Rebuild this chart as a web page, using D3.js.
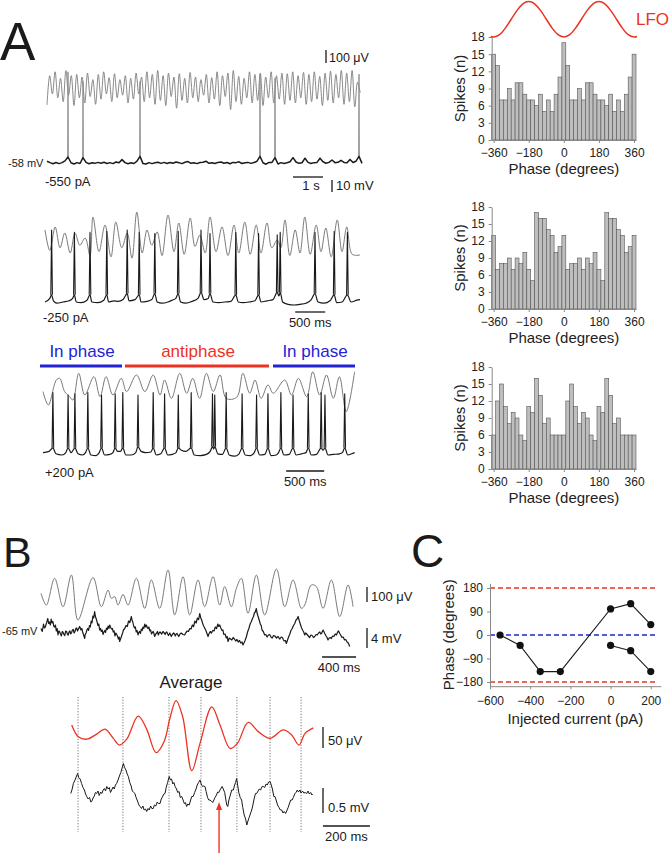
<!DOCTYPE html>
<html><head><meta charset="utf-8">
<script src="https://cdn.jsdelivr.net/npm/d3@7"></script>
<style>body{margin:0;background:#fff;} svg text{font-family:"Liberation Sans",Arial,sans-serif;}</style>
</head><body>
<svg id="fig" width="671" height="853"></svg>
<script>
// ---------------- DATA ----------------
// Phase histograms (20-degree bins centred on -360..360)
const phaseBins = [-360,-340,-320,-300,-280,-260,-240,-220,-200,-180,-160,-140,-120,-100,-80,-60,-40,-20,0,20,40,60,80,100,120,140,160,180,200,220,240,260,280,300,320,340,360];
const hist550 = [15,13,7,7,9,7,10,10,8,7,7,6,8,5,7,5,8,11,17,13,7,7,9,7,10,10,8,7,7,6,8,5,7,5,8,11,15];
const hist250 = [13,7,8,8,9,7,9,8,10,7,5,17,16,16,14,13,10,11,13,7,8,8,9,7,9,8,10,7,5,17,16,16,14,13,10,11,13];
const hist200 = [6,12,15,11,8,10,9,6,5,11,10,16,13,8,9,6,6,6,6,12,15,11,8,10,9,6,5,11,10,16,13,8,9,6,6,6,6];
const phaseTicks = [-360,-180,0,180,360];
const spikeTicks = [0,3,6,9,12,15,18];
// LFO schematic (phase, normalised amplitude)
const lfoPhase = [-375,-360,-330,-300,-270,-240,-210,-180,-150,-120,-90,-60,-30,0,30,60,90,120,150,180,210,240,270,300,330,360,375];
const lfoValue = [-0.97,-1,-0.87,-0.5,0,0.5,0.87,1,0.87,0.5,0,-0.5,-0.87,-1,-0.87,-0.5,0,0.5,0.87,1,0.87,0.5,0,-0.5,-0.87,-1,-0.97];

// Panel C: phase vs injected current
const currentA = [-550,-450,-350,-250,0,100,200];
const phaseA   = [0,-40,-140,-140,100,120,40];
const currentB = [0,100,200];
const phaseB   = [-40,-60,-140];
const currentTicks = [-600,-400,-200,0,200];
const phaseCTicks = [-180,-90,0,90,180];
const refRed = [180,-180];
const refBlue = [0];
const refExtent = [-600,225];

// Panel A1 (-550 pA): LFO extremes (uV) every 0.09 s, Vm (mV above -58) every 0.1 s
const a1LfoDt = 0.09;
const a1Lfo = [-115,110,-30,140,-60,90,-90,150,-40,110,-120,120,-60,100,-100,130,-50,80,-110,120,-70,140,-30,95,-90,125,-60,80,-40,110,-100,90,-70,130,-30,100,-90,140,-60,120,-110,150,-80,110,-120,130,-50,100,-140,125,-80,90,-100,135,-60,100,-90,80,-40,120,-100,95,-70,140,-120,110,-50,130,-150,150,-90,105,-110,90,-60,140,-100,120,-80,130,-120,100,-60,140,-100,110,-70,130,-110,125,-80,140,-100,110,-60,135,-110,120,-90,140,-70,105,-120,130,-80,145,-100,120,-60,150,-110,130,-90,150,-130,60,-20];
const a1VmDt = 0.1;
const a1Vm = [1.5,0.3,-0.6,0.4,-0.5,0.3,1.8,5,0.2,-0.8,
  0.3,-0.4,4.5,0.5,-0.6,0.2,-0.3,0.5,-0.2,0.6,
  -0.4,0.3,-0.5,0.8,0.2,2.8,0.3,-0.6,0.2,-0.4,
  1.5,5.5,-0.5,-0.8,0.3,-0.5,0.2,0.6,-0.3,0.5,
  -0.4,0.4,-0.2,0.8,0.3,-0.5,0.6,1.2,-0.3,0.2,
  -0.5,0.4,0.6,1.5,-0.3,0.2,-0.4,0.5,0.8,-0.2,
  0.4,-0.6,0.5,0.3,1.0,-0.4,0.2,0.5,-0.3,0.4,
  1.5,5.5,0.2,-1.0,0.5,0.5,4.5,-0.8,0.3,-0.4,
  0.2,1.0,4.5,0.8,-0.3,0.2,4.0,0.5,-0.4,0.3,
  0.5,4.0,1.0,-0.2,0.5,2.5,0.3,0.6,2.2,0.5,
  0.3,3.0,0.4,1.5,5.5,-0.3];
const a1SpikeT = [0.7,1.2,3.1,7.1,7.6,10.4];
const a1SpikeTop = [76,68,68,74,71,74];

// Panel A2 (-250 pA)
const a2Lfo = [[0,77],[0.08,-80],[0.17,100],[0.25,-60],[0.33,54],[0.42,-100],[0.5,54],[0.58,-40],[0.67,15],[0.75,-120],[0.8,177],[0.9,-90],[1.0,115],[1.1,-130],[1.18,138],[1.28,-60],[1.37,54],[1.45,-140],[1.53,215],[1.62,-100],[1.7,77],[1.78,-40],[1.87,62],[1.95,-120],[2.05,192],[2.15,-90],[2.23,131],[2.32,-110],[2.42,169],[2.5,-50],[2.58,38],[2.67,-100],[2.75,177],[2.85,-90],[2.95,100],[3.05,-120],[3.15,115],[3.23,-100],[3.33,138],[3.42,-110],[3.52,115],[3.6,-100],[3.7,131],[3.78,-60],[3.87,0],[3.93,-60],[4.0,154],[4.08,-120],[4.17,77],[4.25,-100],[4.33,177],[4.42,-110],[4.52,115],[4.6,-90],[4.68,92],[4.77,-130],[4.87,154],[4.95,-90],[5.03,100],[5.12,-110],[5.25,-115]];
const a2Vm = [[0,0],[0.08,3],[0.11,6],[0.14,1],[0.2,-1],[0.3,0],[0.4,1],[0.46,3],[0.49,6],[0.52,0],[0.6,-0.5],[0.7,1.5],[0.75,6],[0.78,0],[0.88,-0.5],[0.98,1.5],[1.03,6],[1.06,0],[1.15,1],[1.22,0.5],[1.3,2],[1.37,7],[1.4,1],[1.5,2],[1.57,6],[1.6,0],[1.7,0.5],[1.78,2],[1.83,7],[1.87,0],[1.95,-1],[2.05,0],[2.12,1.5],[2.18,3],[2.22,7],[2.26,0],[2.35,-1],[2.45,0.5],[2.55,3],[2.6,8],[2.65,2],[2.72,3],[2.75,7],[2.8,0],[2.9,-0.5],[3.0,0],[3.1,0.5],[3.18,6],[3.22,0],[3.3,-0.5],[3.4,0],[3.5,1],[3.56,6],[3.6,0],[3.7,1],[3.8,2],[3.87,8],[3.9,5],[3.92,8],[3.96,0],[4.05,-2],[4.15,-2.5],[4.25,-2],[4.35,-1],[4.43,1.5],[4.5,7],[4.55,0],[4.65,-1],[4.75,1],[4.82,6],[4.86,-0.5],[4.95,0],[5.04,6],[5.1,0],[5.2,1.5],[5.25,2]];
const a2SpikeT = [0.11,0.49,0.75,1.03,1.37,1.57,1.83,2.22,2.6,2.75,3.18,3.56,3.87,3.92,4.5,4.82,5.04];
const a2SpikeTop = [60,58,58,59,60,58,57,59,60,57,58,57,56,58,58,59,58];

// Panel A3 (+200 pA)
const a3Lfo = [[0,3],[0.07,-100],[0.175,92],[0.22,105],[0.285,3],[0.35,-36],[0.395,-62],[0.47,144],[0.55,-23],[0.67,118],[0.75,-36],[0.83,118],[0.92,-23],[1.03,105],[1.1,3],[1.23,131],[1.34,3],[1.45,131],[1.54,-23],[1.6,92],[1.69,-49],[1.8,144],[1.89,-10],[1.97,105],[2.06,-49],[2.15,144],[2.24,3],[2.33,131],[2.41,-49],[2.55,-40],[2.63,144],[2.72,-10],[2.79,92],[2.87,-49],[2.96,54],[3.03,-10],[3.18,92],[3.27,-23],[3.36,105],[3.47,-36],[3.55,156],[3.64,-23],[3.73,131],[3.82,-49],[3.9,118],[3.99,-151],[4.1,156]];
const a3Vm = [[0,2],[0.08,3],[0.13,6],[0.17,1],[0.25,0],[0.3,2],[0.33,6],[0.37,2],[0.42,6],[0.46,1],[0.52,0],[0.56,2],[0.59,6],[0.63,0],[0.7,-0.5],[0.74,2],[0.77,6],[0.81,0],[0.88,0.5],[0.92,2],[0.95,6],[0.98,3],[1.02,3],[1.05,6],[1.09,0],[1.16,0],[1.22,2],[1.25,7],[1.29,3],[1.35,2],[1.42,2.5],[1.45,6],[1.49,0],[1.55,1],[1.6,6],[1.64,0],[1.7,0.5],[1.75,2],[1.78,6],[1.82,4],[1.88,3],[1.95,6],[1.99,0],[2.07,-0.5],[2.15,0.5],[2.2,3],[2.23,7],[2.245,5],[2.26,7],[2.3,1],[2.36,0.5],[2.41,6],[2.45,0],[2.52,-1],[2.58,1],[2.62,6],[2.66,0],[2.73,-0.5],[2.78,2],[2.81,6],[2.85,0],[2.92,0.5],[2.96,6],[3.0,-0.5],[3.07,0],[3.1,2],[3.13,6],[3.17,0],[3.24,0.5],[3.29,6],[3.33,0],[3.4,1],[3.46,2],[3.49,6],[3.53,0],[3.6,0.5],[3.66,6],[3.685,4],[3.71,6],[3.75,0],[3.82,0.5],[3.9,1],[3.94,2],[3.97,6],[4.01,0],[4.06,1],[4.1,2]];
const a3SpikeT = [0.13,0.33,0.42,0.59,0.77,0.95,1.05,1.25,1.45,1.6,1.78,1.95,2.23,2.26,2.41,2.62,2.81,2.96,3.13,3.29,3.49,3.66,3.71,3.97];
const a3SpikeTop = [52,50,51,52,50,51,52,50,52,51,50,52,51,50,52,51,50,51,52,50,51,52,50,51];

// Panel B raw traces
const bLfo = [[0,11],[0.063,-67],[0.16,111],[0.259,-78],[0.357,133],[0.435,-167],[0.612,116],[0.71,-78],[0.788,33],[0.827,-22],[0.867,-11],[0.906,-67],[0.965,4],[1.024,-67],[1.122,111],[1.22,-89],[1.298,100],[1.396,-89],[1.494,167],[1.573,-133],[1.671,122],[1.749,-133],[1.847,100],[1.925,-78],[2.024,122],[2.102,-67],[2.161,56],[2.239,-78],[2.298,44],[2.357,111],[2.435,-122],[2.533,133],[2.631,-133],[2.769,173],[2.867,-78],[2.965,100],[3.063,-89],[3.102,-67],[3.18,67],[3.239,56],[3.318,-89],[3.416,100],[3.514,-144],[3.612,67],[3.671,-78]];
const bVm = [[0.00,0.9],[0.015,0.3],[0.03,1.8],[0.04,1.0],[0.05,1.2],[0.065,2.0],[0.08,2.9],[0.09,1.9],[0.10,2.2],[0.11,1.6],[0.12,2.8],[0.13,2.0],[0.14,2.3],[0.15,1.4],[0.16,1.2],[0.17,1.6],[0.18,0.4],[0.19,0.9],[0.20,-0.4],[0.21,0.4],[0.22,0.2],[0.23,-0.2],[0.24,-0.6],[0.25,0.3],[0.26,0.1],[0.27,-0.3],[0.28,-0.5],[0.29,0.4],[0.30,0.3],[0.31,-0.2],[0.32,-0.4],[0.33,0.2],[0.34,0.4],[0.35,-0.2],[0.36,0.1],[0.37,0.6],[0.38,0.7],[0.39,0.0],[0.40,0.3],[0.41,0.9],[0.42,1.0],[0.43,0.4],[0.44,0.8],[0.455,1.3],[0.47,0.6],[0.48,0.9],[0.49,0.2],[0.50,-0.3],[0.514,-1.1],[0.52,-0.3],[0.53,0.0],[0.54,0.6],[0.55,0.9],[0.56,0.5],[0.57,1.5],[0.58,1.2],[0.59,2.4],[0.60,2.0],[0.61,3.4],[0.62,3.0],[0.631,4.3],[0.64,3.3],[0.65,2.8],[0.66,2.2],[0.67,1.5],[0.68,1.8],[0.69,0.6],[0.70,0.9],[0.71,0.3],[0.72,0.6],[0.73,-0.3],[0.74,0.2],[0.75,0.5],[0.76,0.1],[0.77,1.0],[0.78,0.7],[0.79,1.4],[0.80,0.9],[0.808,1.6],[0.82,1.1],[0.83,0.8],[0.84,0.9],[0.85,0.2],[0.86,0.4],[0.87,-0.6],[0.88,0.0],[0.89,-0.3],[0.90,-0.6],[0.91,-1.2],[0.92,-0.8],[0.925,-1.7],[0.94,-1.0],[0.95,-0.5],[0.96,0.0],[0.97,0.6],[0.985,0.9],[1.00,1.5],[1.015,1.3],[1.03,2.4],[1.045,2.1],[1.063,3.3],[1.07,2.6],[1.08,2.2],[1.09,1.4],[1.10,1.0],[1.11,1.2],[1.12,0.2],[1.13,0.5],[1.141,-0.4],[1.15,0.1],[1.16,0.3],[1.17,-0.1],[1.18,0.8],[1.19,0.5],[1.20,1.2],[1.21,0.9],[1.22,1.8],[1.23,1.2],[1.239,1.6],[1.25,1.1],[1.26,0.9],[1.27,1.2],[1.28,0.4],[1.29,0.6],[1.30,-0.2],[1.31,0.1],[1.32,0.3],[1.33,-0.2],[1.337,-0.7],[1.35,-0.2],[1.36,0.0],[1.37,0.3],[1.38,-0.4],[1.39,0.0],[1.40,0.2],[1.42,-0.2],[1.435,0.3],[1.45,0.0],[1.46,-0.3],[1.47,0.1],[1.48,0.2],[1.49,-0.2],[1.50,-0.5],[1.515,0.0],[1.533,-0.7],[1.545,-0.3],[1.56,0.0],[1.57,-0.2],[1.58,-0.6],[1.59,-0.2],[1.60,-0.1],[1.61,-0.4],[1.62,-0.7],[1.635,-0.2],[1.65,0.0],[1.67,-0.3],[1.69,-0.4],[1.705,0.1],[1.72,0.4],[1.735,0.3],[1.75,0.9],[1.765,0.8],[1.78,1.6],[1.795,1.3],[1.81,2.4],[1.825,2.0],[1.84,3.0],[1.855,2.7],[1.867,3.9],[1.88,3.0],[1.89,2.6],[1.90,2.0],[1.91,1.5],[1.925,1.0],[1.94,0.5],[1.95,0.0],[1.965,-0.7],[1.975,-0.2],[1.99,0.3],[2.005,0.0],[2.02,0.5],[2.035,0.4],[2.05,1.2],[2.065,0.9],[2.08,1.8],[2.09,1.3],[2.102,1.6],[2.115,1.0],[2.13,0.5],[2.14,0.6],[2.15,-0.3],[2.165,-0.2],[2.18,-1.0],[2.19,-0.7],[2.20,-1.7],[2.215,-1.0],[2.23,-1.2],[2.245,-1.4],[2.26,-0.9],[2.275,-1.2],[2.29,-1.6],[2.305,-1.3],[2.32,-1.8],[2.335,-1.5],[2.35,-2.0],[2.365,-1.8],[2.376,-2.4],[2.39,-1.9],[2.40,-1.5],[2.415,-0.8],[2.43,0.2],[2.445,0.9],[2.46,1.8],[2.475,2.3],[2.49,3.0],[2.50,3.3],[2.51,4.0],[2.52,4.2],[2.533,4.9],[2.54,4.1],[2.55,3.5],[2.565,2.7],[2.58,1.8],[2.59,1.5],[2.60,0.6],[2.615,0.3],[2.631,-0.4],[2.645,-0.3],[2.66,-0.8],[2.675,-0.4],[2.69,-0.3],[2.705,-0.8],[2.72,-1.0],[2.735,-0.5],[2.75,-0.6],[2.77,-1.0],[2.788,-0.7],[2.80,-1.0],[2.81,-1.2],[2.825,-0.8],[2.84,-0.9],[2.85,-1.3],[2.86,-1.6],[2.875,-1.5],[2.886,-2.1],[2.90,-1.4],[2.91,-0.9],[2.925,-0.3],[2.94,0.5],[2.955,0.9],[2.97,1.5],[2.985,1.9],[3.00,2.6],[3.012,2.8],[3.024,3.3],[3.037,2.5],[3.05,1.8],[3.065,1.0],[3.08,0.5],[3.09,0.2],[3.102,-0.4],[3.115,0.0],[3.13,-0.3],[3.145,-0.6],[3.16,-0.9],[3.175,-0.4],[3.19,-0.5],[3.205,-0.9],[3.22,-0.7],[3.235,-0.3],[3.25,-0.4],[3.265,0.0],[3.28,0.2],[3.29,-0.2],[3.30,-0.1],[3.31,0.3],[3.318,0.6],[3.335,0.0],[3.35,-0.5],[3.365,-0.9],[3.376,-1.4],[3.39,-1.0],[3.40,-0.9],[3.415,-1.1],[3.43,-0.6],[3.445,-0.7],[3.46,-0.2],[3.475,-0.4],[3.49,0.2],[3.50,0.4],[3.514,-0.1],[3.525,-0.4],[3.54,-0.9],[3.555,-0.8],[3.57,-1.4],[3.585,-1.3],[3.60,-1.8],[3.615,-2.0],[3.631,-2.7]];

// Panel B averages (ms relative to spike)
const avgLfo = [[-414,24],[-386,-4],[-350,-10],[-308,2],[-272,14],[-237,-8],[-211,-24],[-180,-10],[-131,45],[-95,14],[-55,-42],[-21,-16],[4,40],[30,82],[58,44],[97,-85],[132,-20],[182,67],[217,24],[260,-32],[291,-20],[337,30],[380,8],[430,-8],[486,12],[522,0],[553,-24],[579,4],[614,17]];
const avgVm = [[-418,0.03],[-412,0.12],[-407,0.23],[-400,0.30],[-395,0.36],[-389,0.43],[-384,0.35],[-378,0.32],[-372,0.23],[-366,0.15],[-360,0.10],[-355,0.02],[-350,-0.03],[-344,-0.08],[-338,-0.05],[-333,-0.14],[-329,-0.13],[-323,-0.06],[-318,-0.02],[-313,0.05],[-308,0.03],[-302,0.08],[-297,-0.01],[-291,0.06],[-286,0.03],[-280,0.10],[-275,0.13],[-270,0.08],[-265,0.17],[-259,0.12],[-254,0.15],[-249,0.05],[-244,0.10],[-238,0.16],[-233,0.12],[-228,0.20],[-223,0.23],[-217,0.30],[-211,0.38],[-205,0.45],[-199,0.55],[-194,0.63],[-189,0.55],[-183,0.50],[-178,0.42],[-173,0.37],[-167,0.25],[-161,0.18],[-156,0.08],[-150,0.05],[-145,0.03],[-140,-0.05],[-134,-0.12],[-128,-0.20],[-123,-0.23],[-117,-0.27],[-111,-0.22],[-106,-0.30],[-100,-0.28],[-95,-0.33],[-89,-0.27],[-84,-0.30],[-78,-0.22],[-73,-0.27],[-67,-0.27],[-62,-0.20],[-56,-0.22],[-50,-0.14],[-45,-0.17],[-38,-0.17],[-33,-0.08],[-28,-0.04],[-22,0.02],[-17,0.03],[-12,0.15],[-6,0.25],[1,0.37],[6,0.30],[11,0.32],[16,0.22],[21,0.25],[26,0.17],[32,0.12],[37,0.05],[43,0.07],[48,-0.05],[54,-0.03],[60,-0.10],[65,-0.17],[70,-0.15],[75,-0.23],[80,-0.18],[86,-0.20],[92,-0.10],[97,-0.03],[103,-0.03],[109,0.05],[115,0.12],[120,0.20],[126,0.25],[132,0.30],[137,0.22],[143,0.17],[148,0.18],[153,0.17],[158,0.07],[164,-0.05],[169,-0.10],[174,-0.10],[180,-0.12],[186,-0.15],[191,-0.10],[196,-0.05],[202,0.00],[207,0.06],[212,0.05],[217,0.10],[222,0.14],[226,0.17],[231,0.12],[237,0.05],[242,-0.10],[246,-0.20],[250,-0.23],[255,-0.10],[261,0.00],[267,0.10],[274,0.10],[278,0.18],[283,0.25],[288,0.33],[292,0.20],[297,0.05],[303,-0.05],[309,-0.10],[314,-0.25],[320,-0.40],[326,-0.48],[331,-0.60],[336,-0.52],[341,-0.45],[346,-0.38],[352,-0.30],[357,-0.20],[362,-0.08],[368,0.03],[373,0.03],[379,0.08],[384,0.12],[390,0.10],[396,0.17],[401,0.17],[407,0.15],[413,0.22],[418,0.20],[424,0.26],[430,0.27],[435,0.20],[440,0.12],[446,-0.03],[451,-0.03],[457,-0.12],[462,-0.20],[468,-0.25],[474,-0.30],[480,-0.30],[485,-0.36],[490,-0.33],[496,-0.37],[501,-0.32],[507,-0.25],[512,-0.18],[518,-0.10],[524,-0.10],[529,-0.05],[535,0.02],[540,0.05],[546,0.10],[551,0.06],[557,0.10],[562,0.04],[568,0.08],[574,0.04],[580,0.05],[586,0.03],[592,0.08],[597,0.02],[603,0.05],[608,0.00],[611,0.02]];
const avgMarkers = [-387,-196,0,136,289,430,562];
const arrowTime = 213;

// ---------------- DRAWING ----------------
const svg = d3.select("#fig");
const INK = "#1a1a1a", GREY = "#7a7a7a", RED = "#ec3323", BLUE = "#2323d6";

function label(x, y, s, o = {}) {
  return svg.append("text").attr("x", x).attr("y", y).text(s)
    .attr("font-size", o.size || 13).attr("fill", o.fill || INK)
    .attr("text-anchor", o.anchor || "start");
}
function seg(x1, y1, x2, y2, color = INK, w = 1.3) {
  svg.append("line").attr("x1", x1).attr("y1", y1).attr("x2", x2).attr("y2", y2)
    .attr("stroke", color).attr("stroke-width", w);
}
function trace(pts, xs, ys, color, w, curve) {
  svg.append("path").datum(pts)
    .attr("d", d3.line().x(d => xs(d[0])).y(d => ys(d[1])).curve(curve || d3.curveLinear))
    .attr("fill", "none").attr("stroke", color).attr("stroke-width", w)
    .attr("stroke-linejoin", "round");
}
function interp(pts, t) {
  const i = d3.bisector(d => d[0]).left(pts, t);
  if (i <= 0) return pts[0][1];
  if (i >= pts.length) return pts[pts.length - 1][1];
  const a = pts[i - 1], b = pts[i];
  return a[1] + (b[1] - a[1]) * (t - a[0]) / (b[0] - a[0]);
}
function spikes(times, tops, vm, xs, ys, color, w, half) {
  svg.append("g").selectAll("path").data(times).join("path")
    .attr("d", (t, i) => {
      const base = interp(vm, t);
      return `M${xs(t) - half},${ys(base)}L${xs(t)},${ys(tops[i])}L${xs(t) + half},${ys(base)}`;
    })
    .attr("fill", "none").attr("stroke", color).attr("stroke-width", w).attr("stroke-linejoin", "round");
}

// Panel letters
label(0, 60, "A", {size: 53});
label(3, 567, "B", {size: 43});
label(411, 567, "C", {size: 46});

// ---- A1 ----
{
  const x = d3.scaleLinear([0, 10.5], [47, 362]);
  const yL = d3.scaleLinear([-150, 150], [109.5, 70.5]);
  const yV = d3.scaleLinear([0, 76], [163, 71.8]);
  trace(a1Lfo.map((v, i) => [i * a1LfoDt, v]), x, yL, GREY, 0.9, d3.curveCatmullRom);
  const vm = a1Vm.map((v, i) => [i * a1VmDt, v]);
  spikes(a1SpikeT, a1SpikeTop, vm, x, yV, "#8a8a8a", 0.9, 0.4);
  trace(vm, x, yV, INK, 1.5);
  // scale bars
  seg(326, 50, 326, 50 + (yL(0) - yL(100)));
  label(329, 62, "100 μV", {size: 12.5});
  seg(x(8.2), 177, x(9.2), 177);
  label((x(8.2) + x(9.2)) / 2 + 3, 190, "1 s", {anchor: "middle"});
  seg(332, 180, 332, 180 + (yV(0) - yV(10)));
  label(336, 190, "10 mV");
  label(8, 167, "-58 mV", {size: 11});
  label(45, 186, "-550 pA");
}
// ---- A2 ----
{
  const x = d3.scaleLinear([0, 5.25], [45, 360]);
  const yL = d3.scaleLinear([-150, 150], [259.5, 220.5]);
  const yV = d3.scaleLinear([0, 60], [302, 230]);
  trace(a2Lfo, x, yL, GREY, 1, d3.curveCatmullRom);
  trace(a2Vm, x, yV, INK, 1.2, d3.curveMonotoneX);
  spikes(a2SpikeT, a2SpikeTop, a2Vm, x, yV, INK, 1.1, 0.8);
  seg(x(4.17), 312, x(4.67), 312);
  label((x(4.17) + x(4.67)) / 2, 327, "500 ms", {anchor: "middle"});
  label(43, 322, "-250 pA");
}
// ---- A3 ----
{
  const x = d3.scaleLinear([0, 4.1], [43, 354.6]);
  const yL = d3.scaleLinear([-150, 150], [411.5, 372.5]);
  const yV = d3.scaleLinear([0, 50], [455, 395]);
  // phase bands
  const bands = [["In phase", 40, 122, BLUE], ["antiphase", 125, 269, RED], ["In phase", 273, 355, BLUE]];
  bands.forEach(b => {
    seg(b[1], 366, b[2], 366, b[3], 3);
    label((b[1] + b[2]) / 2 + 1, 357, b[0], {size: 17, fill: b[3], anchor: "middle"});
  });
  trace(a3Lfo, x, yL, GREY, 1, d3.curveCatmullRom);
  trace(a3Vm, x, yV, INK, 1.2, d3.curveMonotoneX);
  spikes(a3SpikeT, a3SpikeTop, a3Vm, x, yV, INK, 1.1, 0.8);
  seg(x(3.2), 471, x(3.7), 471);
  label((x(3.2) + x(3.7)) / 2, 486, "500 ms", {anchor: "middle"});
  label(45, 477, "+200 pA");
}

// ---- Histograms ----
function histogram(values, top, bottom) {
  const x = d3.scaleLinear([-370, 370], [491.7, 636]);
  const y = d3.scaleLinear([0, 18], [bottom, top]);
  const g = svg.append("g");
  g.selectAll("rect").data(values).join("rect")
    .attr("x", (d, i) => x(phaseBins[i] - 10)).attr("width", x(10) - x(-10))
    .attr("y", d => y(d)).attr("height", d => y(0) - y(d))
    .attr("fill", "#bebebe").attr("stroke", "#555").attr("stroke-width", 0.6);
  const ya = g.append("g").attr("transform", `translate(${x(-370)},0)`)
    .call(d3.axisLeft(y).tickValues(spikeTicks).tickSize(3).tickSizeOuter(0).tickPadding(4));
  const xa = g.append("g").attr("transform", `translate(0,${y(0)})`)
    .call(d3.axisBottom(x).tickValues(phaseTicks).tickSize(3).tickSizeOuter(0).tickPadding(5.5));
  [ya, xa].forEach(a => {
    a.select(".domain").attr("stroke", "#888");
    a.selectAll(".tick line").attr("stroke", "#888");
    a.selectAll(".tick text").attr("font-size", 12).attr("fill", "#222")
      .attr("font-family", "Liberation Sans, Arial, sans-serif");
  });
  g.append("text").attr("transform", `translate(465,${(top + bottom) / 2}) rotate(-90)`)
    .attr("text-anchor", "middle").attr("font-size", 15).attr("fill", "#222").text("Spikes (n)");
  g.append("text").attr("x", (x(-370) + x(370)) / 2).attr("y", bottom + 34)
    .attr("text-anchor", "middle").attr("font-size", 15).attr("fill", "#222").text("Phase (degrees)");
  return x;
}
const hx = histogram(hist550, 37, 140);
histogram(hist250, 207, 309);
histogram(hist200, 367, 469);
{
  const yl = d3.scaleLinear([-1, 1], [37, 1.5]);
  trace(lfoPhase.map((p, i) => [p, lfoValue[i]]), hx, yl, RED, 1.5, d3.curveNatural);
  label(636, 25, "LFO", {size: 17, fill: RED});
}

// ---- B raw ----
{
  const x = d3.scaleLinear([0, 3.67], [41, 353]);
  const yL = d3.scaleLinear([-150, 150], [617.5, 572.5]);
  const yV = d3.scaleLinear([0, 10], [633, 583]);
  trace(bLfo, x, yL, GREY, 1, d3.curveCatmullRom);
  trace(bVm, x, yV, INK, 1.2);
  seg(367, 587, 367, 587 + (yL(0) - yL(100)));
  label(371, 601, "100 μV");
  seg(367, 628, 367, 628 + (yV(0) - yV(4)));
  label(371, 643, "4 mV");
  seg(x(3.306), 657, x(3.706), 657);
  label((x(3.306) + x(3.706)) / 2, 672, "400 ms", {anchor: "middle"});
  label(2, 635, "-65 mV", {size: 11});
}
// ---- B averages ----
{
  const x = d3.scaleLinear([0, 1000], [169, 404]);
  const yR = d3.scaleLinear([0, 100], [735, 693]);
  const yV = d3.scaleLinear([0, 1], [795, 745]);
  label(191, 688, "Average", {size: 17, anchor: "middle"});
  svg.append("g").selectAll("line").data(avgMarkers).join("line")
    .attr("x1", d => x(d)).attr("x2", d => x(d)).attr("y1", 697).attr("y2", 832)
    .attr("stroke", "#555").attr("stroke-width", 0.8).attr("stroke-dasharray", "1.2,1.6");
  trace(avgLfo, x, yR, RED, 1.3, d3.curveCatmullRom);
  trace(avgVm, x, yV, INK, 1);
  seg(323, 727, 323, 727 + (yR(0) - yR(50)));
  label(328, 745, "50 μV");
  seg(323, 788, 323, 788 + (yV(0) - yV(0.5)));
  label(328, 812, "0.5 mV");
  seg(x(655), 826, x(855), 826);
  label((x(655) + x(855)) / 2, 841, "200 ms", {anchor: "middle"});
  // red arrow
  seg(x(arrowTime), 853, x(arrowTime), 808, RED, 1.4);
  svg.append("path").attr("d", `M${x(arrowTime)},802L${x(arrowTime) - 3},810L${x(arrowTime) + 3},810Z`).attr("fill", RED);
}

// ---- C ----
{
  const x = d3.scaleLinear([-600, 250], [490, 660.8]);
  const y = d3.scaleLinear([-196, 198], [686.2, 583.3]);
  const g = svg.append("g");
  g.selectAll("line.r").data(refRed).join("line").attr("class", "r")
    .attr("x1", x(refExtent[0])).attr("x2", x(refExtent[1])).attr("y1", d => y(d)).attr("y2", d => y(d))
    .attr("stroke", RED).attr("stroke-width", 1.5).attr("stroke-dasharray", "5,3");
  g.selectAll("line.b").data(refBlue).join("line").attr("class", "b")
    .attr("x1", x(refExtent[0])).attr("x2", x(refExtent[1])).attr("y1", d => y(d)).attr("y2", d => y(d))
    .attr("stroke", BLUE).attr("stroke-width", 1.5).attr("stroke-dasharray", "5,3");
  const ya = g.append("g").attr("transform", `translate(${x(-600)},0)`)
    .call(d3.axisLeft(y).tickValues(phaseCTicks).tickSize(3).tickSizeOuter(0).tickPadding(4));
  const xa = g.append("g").attr("transform", `translate(0,${y(-196)})`)
    .call(d3.axisBottom(x).tickValues(currentTicks).tickSize(3).tickSizeOuter(0).tickPadding(7));
  [ya, xa].forEach(a => {
    a.select(".domain").attr("stroke", "#888");
    a.selectAll(".tick line").attr("stroke", "#888");
    a.selectAll(".tick text").attr("font-size", 12).attr("fill", "#222")
      .attr("font-family", "Liberation Sans, Arial, sans-serif");
  });
  const line = d3.line().x(d => x(d[0])).y(d => y(d[1]));
  const sA = currentA.map((c, i) => [c, phaseA[i]]);
  const sB = currentB.map((c, i) => [c, phaseB[i]]);
  [sA, sB].forEach(s => {
    g.append("path").datum(s).attr("d", line).attr("fill", "none").attr("stroke", INK).attr("stroke-width", 1.1);
    g.append("g").selectAll("circle").data(s).join("circle")
      .attr("cx", d => x(d[0])).attr("cy", d => y(d[1])).attr("r", 3.6).attr("fill", "#111");
  });
  g.append("text").attr("transform", `translate(454,${(y(-196) + y(198)) / 2}) rotate(-90)`)
    .attr("text-anchor", "middle").attr("font-size", 15).attr("fill", "#222").text("Phase (degrees)");
  g.append("text").attr("x", (x(-600) + x(250)) / 2).attr("y", 724)
    .attr("text-anchor", "middle").attr("font-size", 15).attr("fill", "#222").text("Injected current (pA)");
}
</script>
</body></html>
